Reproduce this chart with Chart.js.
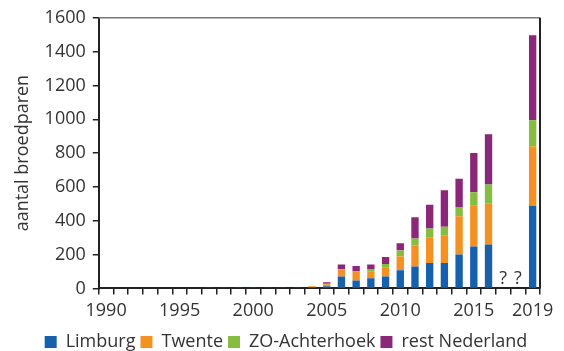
<!DOCTYPE html>
<html>
<head>
<meta charset="utf-8">
<script src="https://cdn.jsdelivr.net/npm/chart.js@4/dist/chart.umd.min.js"></script>
<style>
body { margin: 0; background: #fff; }
</style>
</head>
<body>
<canvas id="chart" width="564" height="351"></canvas>
<script>
var years = ['1990','1991','1992','1993','1994','1995','1996','1997','1998','1999',
             '2000','2001','2002','2003','2004','2005','2006','2007','2008','2009',
             '2010','2011','2012','2013','2014','2015','2016','2017','2018','2019'];
var shownYears = ['1990','1995','2000','2005','2010','2015','2019'];
var missingYears = ['2017','2018'];

var limburg = [0,0,0,0,0,0,0,6,3,6,3,3,3,5,7,12,70,47,60,70,108,130,150,150,200,248,260,null,null,488];
var twente  = [0,0,0,0,0,0,0,0,0,0,0,0,0,1,5,12,40,50,42,55,80,124,153,165,226,244,241,null,null,352];
var zoAchterhoek = [0,0,0,0,0,0,0,0,0,0,0,0,0,0,0,3,5,5,12,20,37,41,51,49,55,77,113,null,null,154];
var restNederland = [0,0,0,0,0,0,0,0,0,0,0,0,0,0,0,10,27,30,28,40,42,126,140,216,167,232,297,null,null,503];

var font = { family: 'Open Sans', size: 18 };
var textColor = '#333';

// frame lines on top/right and the "?" for years without data
var extras = {
    id: 'extras',
    afterDatasetsDraw: function(chart) {
        var ctx = chart.ctx, a = chart.chartArea;
        var x = chart.scales.x, y = chart.scales.y;
        ctx.save();
        ctx.fillStyle = textColor;
        ctx.font = '18px "Open Sans"';
        ctx.textAlign = 'center';
        ctx.textBaseline = 'bottom';
        missingYears.forEach(function(yr) {
            ctx.fillText('?', x.getPixelForValue(yr), y.getPixelForValue(0) - 1);
        });
        ctx.lineWidth = 1.5;
        ctx.strokeStyle = '#777';
        ctx.beginPath();
        ctx.moveTo(a.left, a.top);
        ctx.lineTo(a.right, a.top);
        ctx.stroke();
        ctx.lineWidth = 2;
        ctx.strokeStyle = '#222';
        ctx.beginPath();
        ctx.moveTo(a.right, a.top);
        ctx.lineTo(a.right, a.bottom);
        ctx.stroke();
        ctx.restore();
    }
};

function series(label, data, color) {
    return {
        label: label,
        data: data,
        backgroundColor: color,
        borderWidth: 0,
        barPercentage: 0.5,
        categoryPercentage: 1.0
    };
}

new Chart(document.getElementById('chart'), {
    type: 'bar',
    data: {
        labels: years,
        datasets: [
            series('Limburg', limburg, '#1660ac'),
            series('Twente', twente, '#f39220'),
            series('ZO-Achterhoek', zoAchterhoek, '#86bc40'),
            series('rest Nederland', restNederland, '#8b2779')
        ]
    },
    options: {
        responsive: false,
        animation: false,
        layout: { padding: { top: 5, right: 0, left: 8, bottom: -10 } },
        plugins: {
            tooltip: { enabled: false },
            legend: {
                position: 'bottom',
                labels: {
                    font: font,
                    color: textColor,
                    boxWidth: 12,
                    boxHeight: 12,
                    padding: 5
                }
            }
        },
        scales: {
            x: {
                stacked: true,
                grid: { offset: true, drawOnChartArea: false, tickLength: 6, color: '#222', lineWidth: 1.5 },
                border: { color: '#222', width: 2 },
                ticks: {
                    autoSkip: false,
                    maxRotation: 0,
                    font: font,
                    color: textColor,
                    padding: 6,
                    callback: function(v) {
                        var l = this.getLabelForValue(v);
                        return shownYears.indexOf(l) >= 0 ? l : '';
                    }
                }
            },
            y: {
                stacked: true,
                min: 0,
                max: 1600,
                grid: { drawOnChartArea: false, tickLength: 6, color: '#222', lineWidth: 1.5 },
                border: { color: '#222', width: 2 },
                ticks: {
                    stepSize: 200, font: font, color: textColor, padding: 7,
                    callback: function(v) { return String(v); }
                },
                title: { display: true, text: 'aantal broedparen', font: font, color: textColor, padding: 4 }
            },
            // empty right axis, only keeps room for the last year label
            yRight: {
                position: 'right',
                grid: { display: false },
                border: { display: false },
                ticks: { display: false },
                afterFit: function(s) { s.width = 24; }
            }
        }
    },
    plugins: [extras]
});
</script>
</body>
</html>
